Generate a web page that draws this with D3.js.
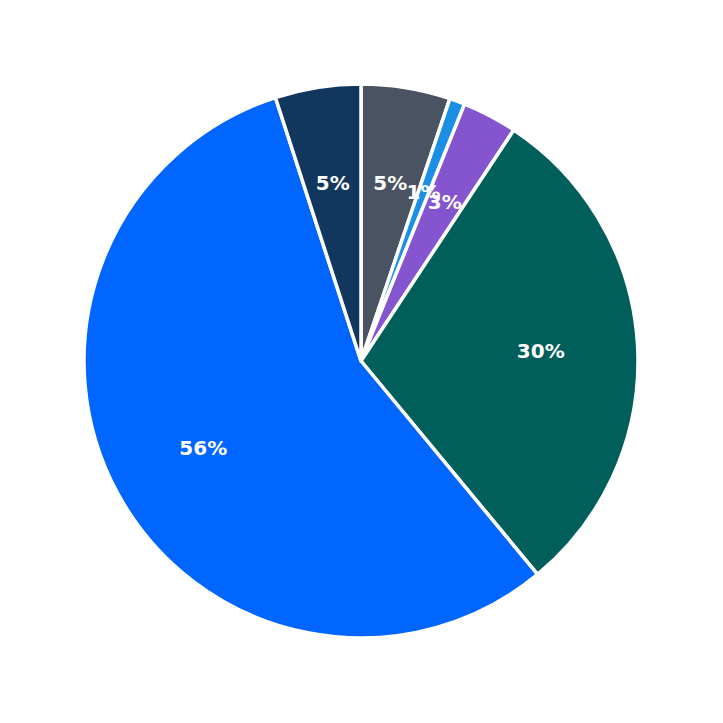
<!DOCTYPE html>
<html><head><meta charset="utf-8">
<script src="https://cdn.jsdelivr.net/npm/d3@7"></script>
<style>body{margin:0;background:#fff}</style>
</head><body>
<svg id="c" width="723" height="723"></svg>
<script>
const categories = ["A","B","C","D","E","F"];
const values = [5.2, 0.9, 3.2, 29.7, 56.0, 5.0];
const labels = ["5%","1%","3%","30%","56%","5%"];
const colors = ["#4a5361","#1a8fe3","#8455cf","#005f5b","#0066ff","#12375f"];

const svg = d3.select("#c");
const g = svg.append("g").attr("transform","translate(361,361)");
const pie = d3.pie().sort(null).value(d=>d.v);
const data = pie(categories.map((c,i)=>({c, v:values[i], l:labels[i], col:colors[i]})));
const arc = d3.arc().innerRadius(0).outerRadius(277);
const lab = d3.arc().innerRadius(180).outerRadius(180);
g.selectAll("path").data(data).join("path")
  .attr("d",arc).attr("fill",d=>d.data.col)
  .attr("stroke","#fff").attr("stroke-width",3.5).attr("stroke-linejoin","round");
g.selectAll("text").data(data).join("text")
  .attr("transform",d=>`translate(${lab.centroid(d)})`)
  .attr("text-anchor","middle").attr("dy","0.35em")
  .attr("fill","#fff").attr("font-family","DejaVu Sans").attr("font-weight","bold").attr("font-size",20)
  .text(d=>d.data.l);
</script>
</body></html>
